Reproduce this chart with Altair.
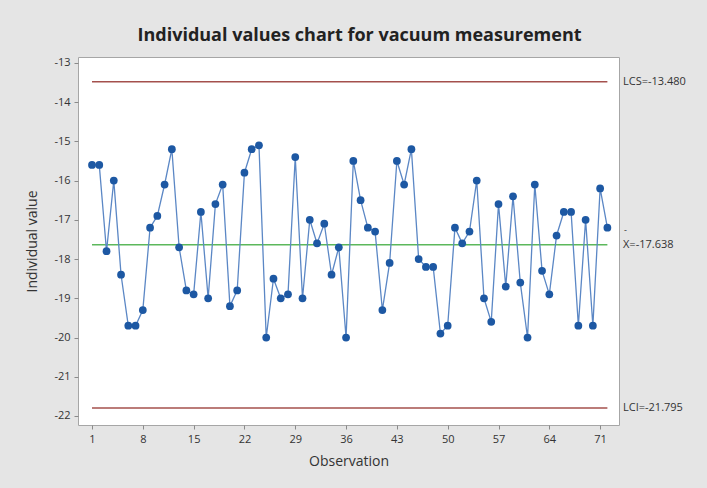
import altair as alt
import pandas as pd

observations = list(range(1, 73))
values = [
    -15.6, -15.6, -17.8, -16.0, -18.4, -19.7, -19.7, -19.3, -17.2, -16.9,
    -16.1, -15.2, -17.7, -18.8, -18.9, -16.8, -19.0, -16.6, -16.1, -19.2,
    -18.8, -15.8, -15.2, -15.1, -20.0, -18.5, -19.0, -18.9, -15.4, -19.0,
    -17.0, -17.6, -17.1, -18.4, -17.7, -20.0, -15.5, -16.5, -17.2, -17.3,
    -19.3, -18.1, -15.5, -16.1, -15.2, -18.0, -18.2, -18.2, -19.9, -19.7,
    -17.2, -17.6, -17.3, -16.0, -19.0, -19.6, -16.6, -18.7, -16.4, -18.6,
    -20.0, -16.1, -18.3, -18.9, -17.4, -16.8, -16.8, -19.7, -17.0, -19.7,
    -16.2, -17.2,
]
x_ticks = [1, 8, 15, 22, 29, 36, 43, 50, 57, 64, 71]
y_ticks = [-13, -14, -15, -16, -17, -18, -19, -20, -21, -22]
limit_names = ["LCS", "mean", "LCI"]
limit_values = [-13.480, -17.638, -21.795]
limit_labels = ["LCS=-13.480", "X=-17.638", "LCI=-21.795"]
limit_colors = ["#a4504d", "#5cb85c", "#a4504d"]

FONT = "Open Sans"
df = pd.DataFrame({"obs": observations, "value": values})
lim = pd.DataFrame({
    "name": limit_names, "value": limit_values, "label": limit_labels,
    "color": limit_colors, "start": [1] * 3, "end": [72] * 3,
})

xscale = alt.Scale(domain=[-0.93, 73.6], nice=False, zero=False)
yscale = alt.Scale(domain=[-22.23, -12.85], nice=False, zero=False)

HYPHEN = "replace(datum.label, '\u2212', '-')"

xenc = alt.X("obs:Q", scale=xscale, title="Observation",
             axis=alt.Axis(values=x_ticks, grid=False, domain=False,
                           tickColor="#8a8a8a", tickSize=4, labelFont=FONT,
                           labelFontSize=11, labelColor="#333333", labelPadding=4,
                           titleFont=FONT, titleFontSize=14, titleFontWeight=500,
                           titleColor="#333333", titlePadding=10))
yenc = alt.Y("value:Q", scale=yscale, title="Individual value",
             axis=alt.Axis(values=y_ticks, grid=False, domain=False,
                           tickColor="#8a8a8a", tickSize=4, labelFont=FONT,
                           labelFontSize=11, labelColor="#333333", labelPadding=4,
                           labelExpr=HYPHEN,
                           titleFont=FONT, titleFontSize=14, titleFontWeight=500,
                           titleColor="#333333", titlePadding=14))

limits = alt.Chart(lim).mark_rule(strokeWidth=1.5).encode(
    x=alt.X("start:Q", scale=xscale),
    x2="end:Q",
    y=alt.Y("value:Q", scale=yscale),
    color=alt.Color("color:N", scale=None),
)

labels = alt.Chart(lim).mark_text(align="left", baseline="middle", font=FONT,
                                  fontSize=11, color="#333333").encode(
    x=alt.value(545),
    y=alt.Y("value:Q", scale=yscale),
    text="label:N",
)

bar = alt.Chart(lim[lim["name"] == "mean"]).mark_text(
    align="left", baseline="middle", font=FONT, fontSize=9, color="#333333", dy=-15, dx=1
).encode(
    x=alt.value(545),
    y=alt.Y("value:Q", scale=yscale),
    text=alt.value("-"),
)

line = alt.Chart(df).mark_line(color="#5b87c5", strokeWidth=1.3).encode(x=xenc, y=yenc)
points = alt.Chart(df).mark_circle(color="#1d58a3", opacity=1, size=60).encode(
    x="obs:Q", y="value:Q")

chart = alt.layer(limits, line, points, labels, bar).properties(
    width=541,
    height=368,
    padding={"left": 78, "top": 57, "right": 88, "bottom": 63},
    autosize=alt.AutoSizeParams(type="none"),
    background="#e5e5e5",
    title=alt.TitleParams("Individual values chart for vacuum measurement",
                          font=FONT, fontSize=18, fontWeight="bold",
                          color="#222222", anchor="middle", offset=12, dx=11),
).configure_view(stroke="#a6a6a6", fill="white", strokeWidth=1)

chart.save("out.html", embed_options={"renderer": "svg", "actions": False})
